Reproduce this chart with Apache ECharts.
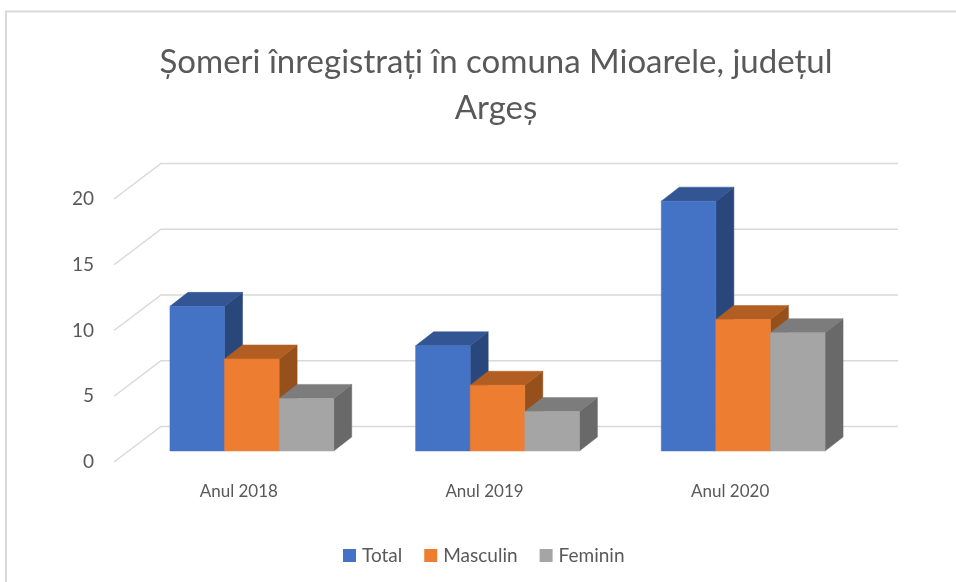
<!DOCTYPE html>
<html>
<head>
<meta charset="utf-8">
<style>html,body{margin:0;padding:0;background:#fff}#c{width:956px;height:582px}</style>
<script src="https://cdn.jsdelivr.net/npm/echarts@6/dist/echarts.min.js"></script>
</head>
<body>
<div id="c"></div>
<script>
const categories = ['Anul 2018', 'Anul 2019', 'Anul 2020'];
const seriesNames = ['Total', 'Masculin', 'Feminin'];
const total = [11, 8, 19];
const masculin = [7, 5, 10];
const feminin = [4, 3, 9];
const yTicks = [0, 5, 10, 15, 20];

const FONT = 'Lato';
const TEXT = '#595959';
const GRID = '#D9D9D9';
const colors = [
  { front: '#4472C4', top: '#335593', side: '#2A477C' },
  { front: '#ED7D31', top: '#B25E22', side: '#95501B' },
  { front: '#A5A5A5', top: '#7C7C7C', side: '#696969' }
];
const WALL_DX = 47, WALL_DY = -35.5;   // floor depth
const BAR_OFF_X = 15, BAR_OFF_Y = -11; // bars sit partway across the floor
const BAR_DX = 18, BAR_DY = -14;       // bar depth

function barSeries(name, values, idx) {
  const c = colors[idx];
  return {
    name, type: 'custom', z: 3 + idx,
    itemStyle: { color: c.front },
    encode: { x: 0, y: 1 },
    data: values.map((v, i) => [i, v]),
    renderItem(params, api) {
      const center = api.coord([api.value(0), 0]);
      const topPt = api.coord([api.value(0), api.value(1)]);
      const band = api.size([1, 0])[0];
      const w = band / 4.5;
      const x0 = center[0] + BAR_OFF_X + (idx - 1.5) * w;
      const x1 = x0 + w;
      const yb = center[1] + BAR_OFF_Y;
      const yt = topPt[1] + BAR_OFF_Y;
      const shape = (points, fill) => ({
        type: 'polygon', shape: { points },
        style: { fill, stroke: fill, lineWidth: 0.5 }
      });
      return {
        type: 'group',
        children: [
          shape([[x1, yt], [x1 + BAR_DX, yt + BAR_DY], [x1 + BAR_DX, yb + BAR_DY], [x1, yb]], c.side),
          shape([[x0, yt], [x0 + BAR_DX, yt + BAR_DY], [x1 + BAR_DX, yt + BAR_DY], [x1, yt]], c.top),
          shape([[x0, yt], [x1, yt], [x1, yb], [x0, yb]], c.front)
        ]
      };
    }
  };
}

const wallSeries = {
  type: 'custom', z: 1, silent: true,
  encode: { y: 0 },
  data: yTicks.map(v => [v]),
  renderItem(params, api) {
    const cs = params.coordSys;
    const y = api.coord([0, api.value(0)])[1];
    return {
      type: 'polyline',
      shape: { points: [
        [cs.x, y],
        [cs.x + WALL_DX, y + WALL_DY],
        [cs.x + cs.width + WALL_DX, y + WALL_DY]
      ] },
      style: { fill: 'none', stroke: GRID, lineWidth: 1.5 }
    };
  }
};

const chart = echarts.init(document.getElementById('c'), null, { renderer: 'canvas' });
chart.setOption({
  animation: false,
  backgroundColor: '#fff',
  title: {
    text: 'Șomeri înregistrați în comuna Mioarele, județul\nArgeș',
    left: 491, top: 34, textAlign: 'center',
    textStyle: { fontFamily: FONT, fontWeight: 'normal', fontSize: 33, lineHeight: 46, color: TEXT }
  },
  legend: {
    data: seriesNames.map(name => ({ name, icon: 'rect' })),
    left: 338, top: 541,
    itemWidth: 13, itemHeight: 13, itemGap: 22,
    textStyle: { fontFamily: FONT, fontSize: 19, color: TEXT, padding: [0, 0, 0, 1] }
  },
  grid: { left: 114, top: 199, width: 737, height: 263 },
  xAxis: {
    type: 'category', data: categories,
    axisLine: { show: false }, axisTick: { show: false }, splitLine: { show: false },
    axisLabel: { fontFamily: FONT, fontSize: 17, color: TEXT, margin: 21, padding: [0, 0, 0, 4] }
  },
  yAxis: {
    type: 'value', min: 0, max: 20, interval: 5,
    axisLine: { show: false }, axisTick: { show: false }, splitLine: { show: false },
    axisLabel: { fontFamily: FONT, fontSize: 19, color: TEXT, margin: 20, padding: [0, 0, 4, 0] }
  },
  graphic: [{
    type: 'polyline', silent: true, z: 0,
    shape: { points: [[6, 582], [6, 11.5], [956, 11.5]] },
    style: { fill: 'none', stroke: '#D9D9D9', lineWidth: 2 }
  }],
  series: [wallSeries, barSeries('Total', total, 0), barSeries('Masculin', masculin, 1), barSeries('Feminin', feminin, 2)]
});
</script>
</body>
</html>
